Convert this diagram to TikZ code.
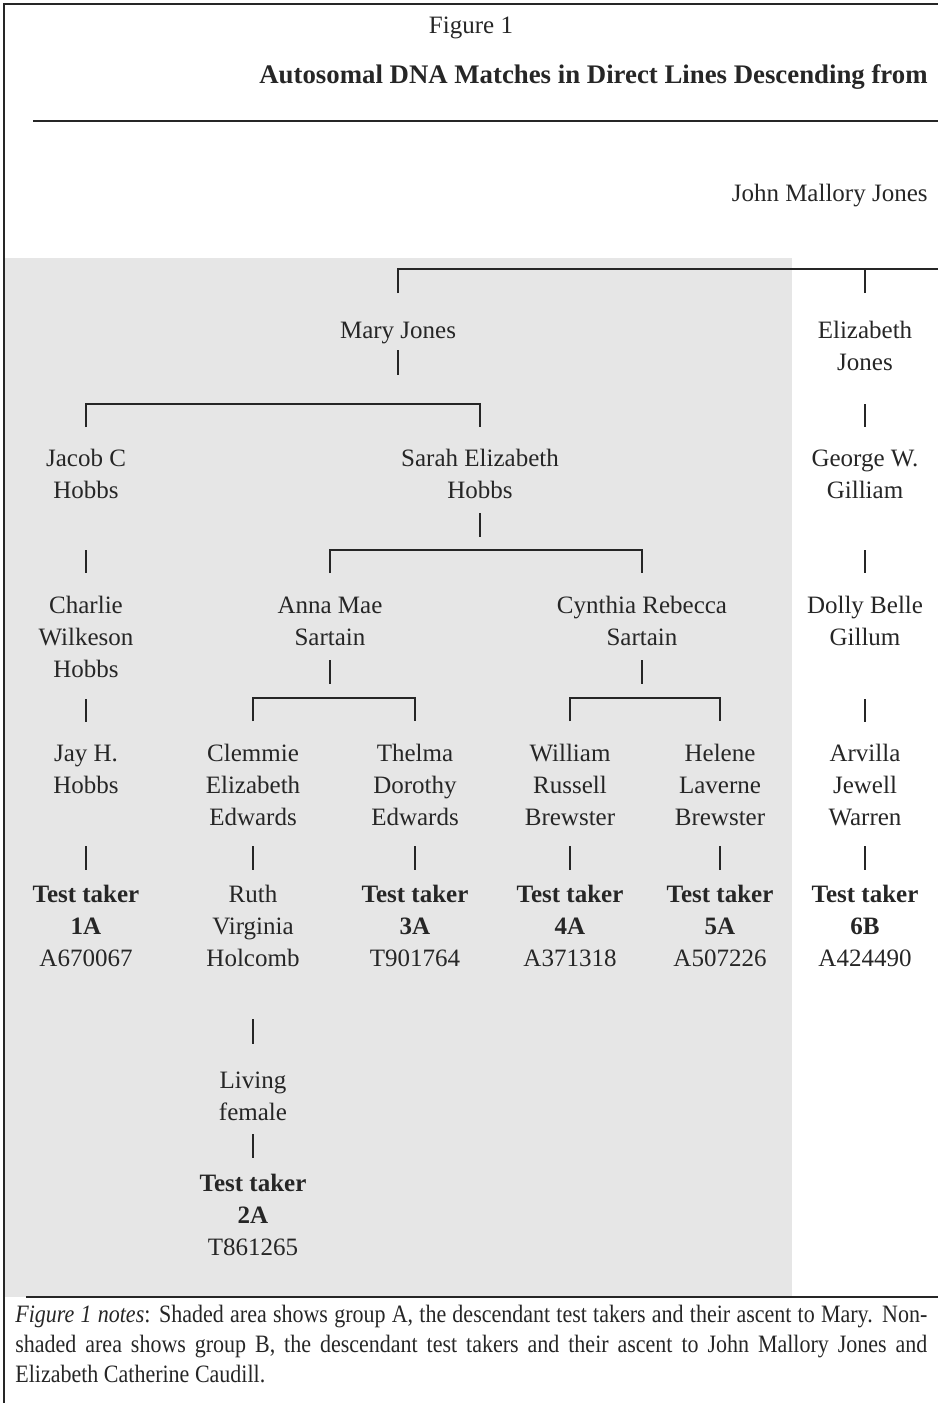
\documentclass[tikz,border=0pt]{standalone}
\usepackage{fontspec}
\setmainfont{Liberation Serif}
\newfontfamily\notesfont{Liberation Serif}[FakeStretch=0.88]
\usetikzlibrary{positioning}
\definecolor{ink}{HTML}{262626}
\definecolor{groupA}{HTML}{E6E6E6}
\newcommand{\testtaker}[2]{\textbf{Test taker}\\\textbf{#1}\\#2}

\begin{document}
\begin{tikzpicture}[
  x=0.5pt, y=-0.5pt,
  font=\fontsize{12.5}{16}\selectfont,
  every node/.style={text=ink},
  person/.style={align=center, inner sep=0pt},
  kin/.style={draw=ink, line width=0.55pt},
  rule/.style={draw=ink, line width=0.75pt}
]
\useasboundingbox (0,0) rectangle (938,1403);

% group A shading and frame
\fill[groupA] (5,258) rectangle (792,1297);
\draw[rule] (4,1403) -- (4,4) -- (938,4);
\draw[rule] (33,121) -- (938,121);
\draw[rule] (26,1297) -- (938,1297);

% heading
\node[person] (fig) at (471,28) {Figure 1};
\node[person, anchor=east, font=\fontsize{13.4}{16}\selectfont\bfseries] (title) at (928,77) {Autosomal DNA Matches in Direct Lines Descending from};
\node[person, anchor=east] (john) at (928,196) {John Mallory Jones};
\coordinate (root) at (938,269);

% generations
\node[person] (mary)    at (398,333) {Mary Jones};
\node[person] (eliz)    at (865,346) {Elizabeth\\Jones};
\node[person] (jacob)   at (86,474)  {Jacob C\\Hobbs};
\node[person] (sarah)   at (480,474) {Sarah Elizabeth\\Hobbs};
\node[person] (george)  at (865,474) {George W.\\Gilliam};
\node[person] (charlie) at (86,637)  {Charlie\\Wilkeson\\Hobbs};
\node[person] (anna)    at (330,621) {Anna Mae\\Sartain};
\node[person] (cynthia) at (642,621) {Cynthia Rebecca\\Sartain};
\node[person] (dolly)   at (865,621) {Dolly Belle\\Gillum};
\node[person] (jay)     at (86,769)  {Jay H.\\Hobbs};
\node[person] (clemmie) at (253,785) {Clemmie\\Elizabeth\\Edwards};
\node[person] (thelma)  at (415,785) {Thelma\\Dorothy\\Edwards};
\node[person] (william) at (570,785) {William\\Russell\\Brewster};
\node[person] (helene)  at (720,785) {Helene\\Laverne\\Brewster};
\node[person] (arvilla) at (865,785) {Arvilla\\Jewell\\Warren};

% test takers
\node[person] (t1)     at (86,926)  {\testtaker{1A}{A670067}};
\node[person] (ruth)   at (253,926) {Ruth\\Virginia\\Holcomb};
\node[person] (t3)     at (415,926) {\testtaker{3A}{T901764}};
\node[person] (t4)     at (570,926) {\testtaker{4A}{A371318}};
\node[person] (t5)     at (720,926) {\testtaker{5A}{A507226}};
\node[person] (t6)     at (865,926) {\testtaker{6B}{A424490}};
\node[person] (living) at (253,1096) {Living\\female};
\node[person] (t2)     at (253,1215) {\testtaker{2A}{T861265}};

% lines of descent
\draw[kin] (mary |- 0,293) |- (root);
\draw[kin] (eliz |- 0,293) -- (eliz |- root);
\draw[kin] (mary |- 0,350) -- (mary |- 0,375);
\draw[kin] (jacob |- 0,427) |- (sarah |- 0,404) -- (sarah |- 0,427);
\draw[kin] (eliz |- 0,404) -- (eliz |- 0,427);
\draw[kin] (sarah |- 0,513) -- (sarah |- 0,537);
\draw[kin] (anna |- 0,573) |- (cynthia |- 0,550) -- (cynthia |- 0,573);
\draw[kin] (jacob |- 0,550) -- (jacob |- 0,573);
\draw[kin] (george |- 0,550) -- (george |- 0,573);
\draw[kin] (anna |- 0,660) -- (anna |- 0,684);
\draw[kin] (cynthia |- 0,660) -- (cynthia |- 0,684);
\draw[kin] (clemmie |- 0,721) |- (thelma |- 0,698) -- (thelma |- 0,721);
\draw[kin] (william |- 0,721) |- (helene |- 0,698) -- (helene |- 0,721);
\draw[kin] (charlie |- 0,699) -- (charlie |- 0,722);
\draw[kin] (dolly |- 0,699) -- (dolly |- 0,722);
\foreach \n in {jay,clemmie,thelma,william,helene,arvilla}
  \draw[kin] (\n |- 0,846) -- (\n |- 0,870);
\draw[kin] (ruth |- 0,1019) -- (ruth |- 0,1044);
\draw[kin] (living |- 0,1134) -- (living |- 0,1158);

% notes
\node[anchor=north west, inner sep=0pt, text width=456pt, align=justify,
      font=\notesfont\fontsize{12.5}{15}\selectfont] (notes) at (15,1305)
  {\textit{Figure 1 notes}: Shaded area shows group A, the descendant test takers and their ascent to Mary. Non-\linebreak shaded area shows group B, the descendant test takers and their ascent to John Mallory Jones and\linebreak Elizabeth Catherine Caudill.};
\end{tikzpicture}
\end{document}
